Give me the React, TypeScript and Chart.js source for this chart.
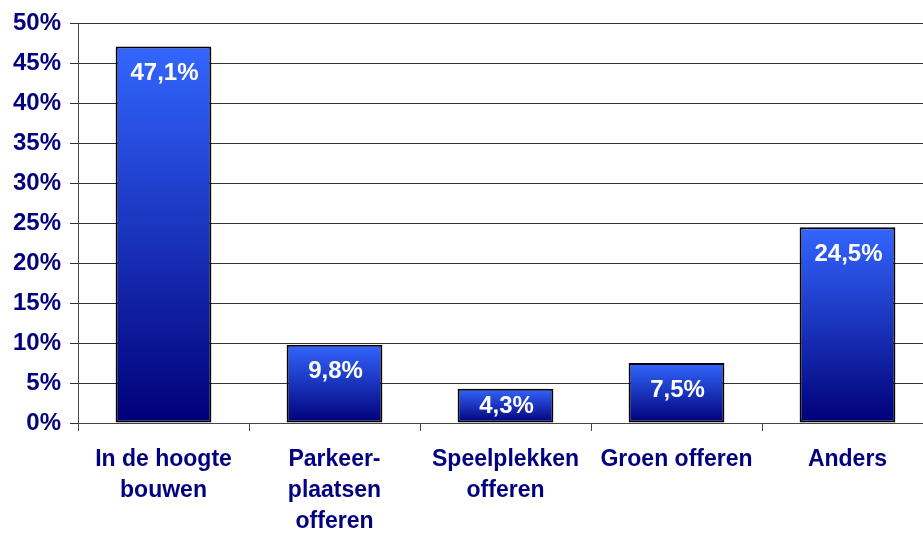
import React, { useEffect, useRef } from "react";
import { Chart, registerables } from "chart.js";

Chart.register(...registerables);

const categories: string[][] = [
  ["In de hoogte", "bouwen"],
  ["Parkeer-", "plaatsen", "offeren"],
  ["Speelplekken", "offeren"],
  ["Groen offeren"],
  ["Anders"],
];
const values: number[] = [47.1, 9.8, 4.3, 7.5, 24.5];
const valueLabels: string[] = ["47,1%", "9,8%", "4,3%", "7,5%", "24,5%"];

const FONT = "'Liberation Sans', Arial, sans-serif";
const NAVY = "#000080";

const barLabelPlugin = {
  id: "barLabels",
  afterDatasetsDraw(chart: any) {
    const ctx = chart.ctx;
    const meta = chart.getDatasetMeta(0);
    ctx.save();
    ctx.fillStyle = "#ffffff";
    ctx.font = `bold 24px ${FONT}`;
    ctx.textAlign = "center";
    ctx.textBaseline = "middle";
    meta.data.forEach((el: any, i: number) => {
      const top = el.y;
      const base = el.base;
      const y = Math.min(top + 26, (top + base) / 2);
      ctx.fillText(valueLabels[i], el.x + 1, y + 1);
    });
    ctx.restore();
  },
};

export default function App() {
  const ref = useRef<HTMLCanvasElement>(null);
  useEffect(() => {
    if (!ref.current) return;
    const chart = new Chart(ref.current, {
      type: "bar",
      data: {
        labels: categories,
        datasets: [
          {
            data: values,
            backgroundColor: (c: any) => {
              const ch = c.chart;
              const ys = ch.scales.y;
              if (!ys || c.parsed == null) return "#2040c0";
              const top = ys.getPixelForValue(c.parsed.y);
              const bottom = ys.getPixelForValue(0);
              if (!isFinite(top) || !isFinite(bottom) || top === bottom) return "#2040c0";
              const g = ch.ctx.createLinearGradient(0, top, 0, bottom);
              g.addColorStop(0, "#3366ff");
              g.addColorStop(1, "#000078");
              return g;
            },
            borderColor: "#000000",
            borderWidth: 2,
            borderSkipped: false,
            barPercentage: 0.56,
            categoryPercentage: 1,
          },
        ],
      },
      options: {
        responsive: false,
        animation: false,
        layout: { padding: { top: 7, right: 1, left: 0, bottom: 0 } },
        plugins: {
          legend: { display: false },
          tooltip: { enabled: false },
        },
        scales: {
          x: {
            offset: true,
            grid: {
              offset: true,
              drawOnChartArea: false,
              drawTicks: true,
              tickLength: 8,
              color: "#444444",
            },
            border: { color: "#444444", width: 1 },
            ticks: {
              color: NAVY,
              font: { family: FONT, size: 23, weight: "bold", lineHeight: 1.35 },
              padding: 13,
              maxRotation: 0,
              autoSkip: false,
            },
            afterFit: (s: any) => {
              s.height = 110;
            },
          },
          y: {
            min: 0,
            max: 50,
            grid: {
              color: "#333333",
              lineWidth: 1,
              drawTicks: true,
              tickLength: 8,
            },
            border: { color: "#444444", width: 1 },
            ticks: {
              stepSize: 5,
              color: NAVY,
              font: { family: FONT, size: 24, weight: "bold" },
              padding: 9,
              callback: (v: any) => `${v}%`,
            },
            afterFit: (s: any) => {
              s.width = 78;
            },
          },
        },
      },
      plugins: [barLabelPlugin],
    });
    return () => chart.destroy();
  }, []);
  return (
    <div
      style={{
        position: "fixed",
        left: 0,
        top: 0,
        width: 923,
        height: 533,
        overflow: "hidden",
        background: "#ffffff",
      }}
    >
      <canvas ref={ref} width={934} height={533} style={{ display: "block" }} />
    </div>
  );
}
